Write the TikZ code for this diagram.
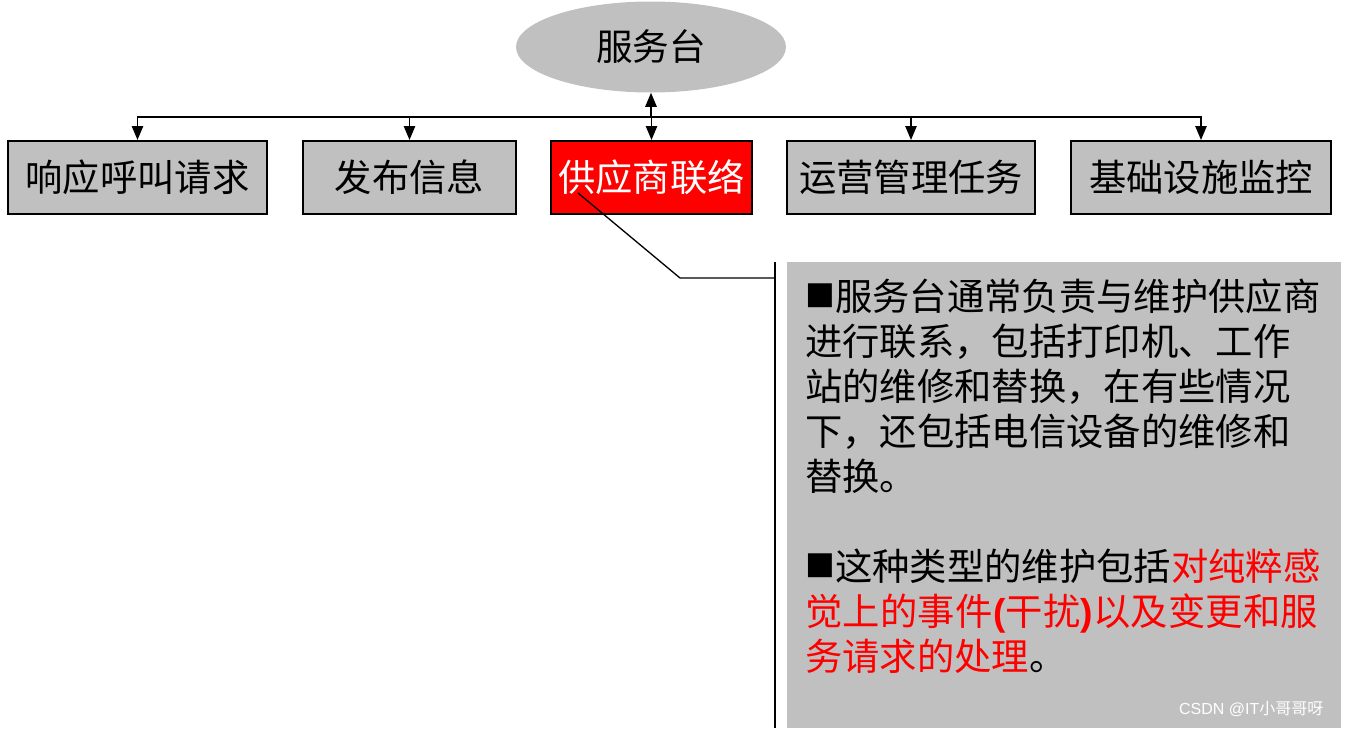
\documentclass[tikz,border=0pt]{standalone}
\usepackage{fontspec}
\setmainfont{Noto Sans CJK SC}
\newfontfamily\lat{Liberation Sans}
\usetikzlibrary{shapes.geometric,arrows.meta}
\definecolor{boxgray}{RGB}{192,192,192}
\newcommand{\blk}{{\lat\fontsize{37pt}{30pt}\selectfont ■}}

\begin{document}
\begin{tikzpicture}[x=0.75pt,y=-0.75pt,
  task/.style={draw=black,line width=1.5pt,fill=boxgray,minimum height=54.75pt,inner sep=0pt,font=\fontsize{28pt}{30pt}\selectfont},
  link/.style={->,>={Triangle[width=8.5pt,length=10.5pt]},line width=1.2pt}]
\useasboundingbox (0,0) rectangle (1345,728);

\node [ellipse,fill=boxgray,minimum width=202.5pt,minimum height=68.25pt,font=\fontsize{27.5pt}{30pt}\selectfont] (desk) at (651,47) {服务台};

\node [task,minimum width=194.25pt] (call) at (137.5,177.5) {响应呼叫请求};
\node [task,minimum width=159.75pt] (info) at (409.5,177.5) {发布信息};
\node [task,minimum width=150.75pt,fill=red,text=white] (vendor) at (651.5,177.5) {供应商联络};
\node [task,minimum width=186pt] (ops) at (911,177.5) {运营管理任务};
\node [task,minimum width=195pt] (infra) at (1201,177.5) {基础设施监控};

\coordinate (hub) at (651,117);
\draw [link] (hub) -- (desk.south);
\foreach \t in {call,info,vendor,ops,infra}
  \draw [link] (hub) -| (\t.north);

% callout
\fill [boxgray] (787,262) rectangle (1341,728);
\coordinate (tip) at (578,193);
\coordinate (elbow) at (680,278);
\coordinate (bar) at (775,278);
\coordinate (barTop) at (775,262);
\coordinate (barBot) at (775,728);
\draw [line width=1pt] (tip) -- (elbow) -- (bar);
\draw [line width=1.5pt] (barTop) -- (barBot);

\node [anchor=north west,inner sep=0pt,align=left,font=\fontsize{28pt}{33.75pt}\selectfont] (note) at (805,279)
 {\makebox[384.75pt][s]{\blk\hfil 服\hfil 务\hfil 台\hfil 通\hfil 常\hfil 负\hfil 责\hfil 与\hfil 维\hfil 护\hfil 供\hfil 应\hfil 商}\\
  进行联系，包括打印机、工作\\
  站的维修和替换，在有些情况\\
  下，还包括电信设备的维修和\\
  替换。\\[33.75pt]
  \blk 这种类型的维护包括\textcolor{red}{对纯粹感}\\
  \textcolor{red}{\makebox[384.75pt][s]{觉\hfil 上\hfil 的\hfil 事\hfil 件\hfil {\lat\bfseries(}干\hfil 扰{\lat\bfseries)}\hfil 以\hfil 及\hfil 变\hfil 更\hfil 和\hfil 服}}\\
  \textcolor{red}{务请求的处理}。};

\node [anchor=east,text=white,font=\lat\fontsize{12pt}{14pt}\selectfont] (mark) at (1328,709) {CSDN @IT{\rmfamily 小哥哥呀}};
\end{tikzpicture}
\end{document}
